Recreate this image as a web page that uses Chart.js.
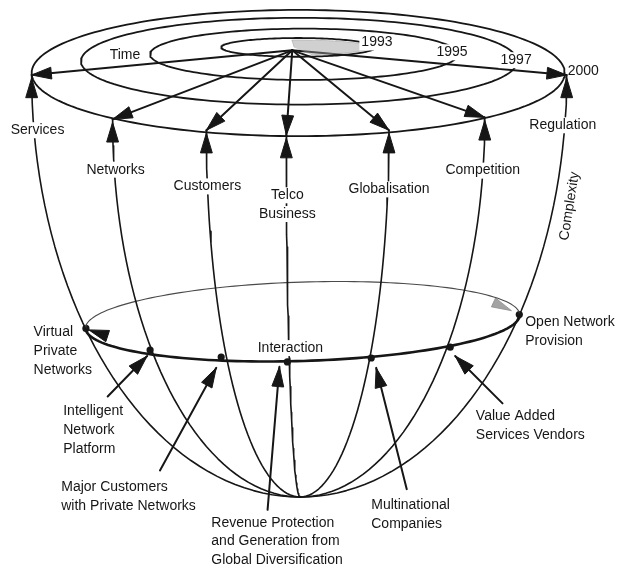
<!DOCTYPE html>
<html>
<head>
<meta charset="utf-8">
<script src="https://cdn.jsdelivr.net/npm/chart.js@4"></script>
<style>
  html, body { margin: 0; padding: 0; background: #fff; }
  #wrap { width: 624px; height: 573px; position: relative; }
</style>
</head>
<body>
<div id="wrap"><canvas id="bowl"></canvas></div>
<script>
// time rings on the rim of the bowl (1993 innermost, 2000 = the rim itself)
const ringYears = ['1993', '1995', '1997', '2000'];
const ringCx = [298, 304, 299, 298];
const ringCy = [44, 51, 58, 70];
const ringRx = [78, 156, 221, 270];
const ringRy = [9.5, 26, 44, 64];

// drivers: spoke from the hub to the rim, then a meridian down to the bottom
const drivers = ['Services', 'Networks', 'Customers', 'Telco Business', 'Globalisation', 'Competition', 'Regulation'];
const rimX = [28, 110, 205, 286, 390, 487, 570];
const rimY = [72, 117, 128, 133, 128, 115, 72];
const hubPoint = [292, 47];
const bottomPoint = [300, 500];

// interaction ring and the points where meridians cross it
const interCentre = [302.5, 322];
const interRadius = [220, 40];
const interTilt = -1.8;
const nodeNames = ['Virtual Private Networks', 'Intelligent Network Platform', 'Major Customers', 'Interaction', 'Multinational Companies', 'Value Added Services Vendors', 'Open Network Provision'];
const nodeX = [83, 148, 220, 287, 372, 452, 522];
const nodeY = [329, 351, 358, 363, 359, 348, 315];

// arrows from the outside players towards the ring
const playerFromX = [105, 158, 267, 408, 505];
const playerFromY = [398, 473, 513, 492, 405];
const playerToX = [145, 215, 279, 377, 457];
const playerToY = [357, 369, 368, 369, 357];

const INK = '#161616';
const FONT = '14px "Liberation Sans", Arial, sans-serif';

function arc(cx, cy, rx, ry, a0, a1, tilt) {
  const t = (tilt || 0) * Math.PI / 180, c = Math.cos(t), s = Math.sin(t);
  const pts = [];
  for (let a = a0; ; a += 2) {
    if (a > a1) a = a1;
    const r = a * Math.PI / 180;
    const X = rx * Math.cos(r), Y = -ry * Math.sin(r);
    pts.push({ x: cx + X * c - Y * s, y: cy + X * s + Y * c });
    if (a === a1) break;
  }
  return pts;
}

function meridian(x0, y0) {
  const pts = [];
  for (let a = 0; a <= 90; a += 2) {
    const r = a * Math.PI / 180;
    pts.push({ x: bottomPoint[0] + (x0 - bottomPoint[0]) * Math.cos(r), y: y0 + (bottomPoint[1] - y0) * Math.sin(r) });
  }
  return pts;
}

function head(fx, fy, tx, ty, len, half) {
  const dx = tx - fx, dy = ty - fy, d = Math.hypot(dx, dy);
  const ux = dx / d, uy = dy / d;
  const bx = tx - ux * len, by = ty - uy * len;
  return [
    { x: tx, y: ty },
    { x: bx - uy * half, y: by + ux * half },
    { x: bx + uy * half, y: by - ux * half },
    { x: tx, y: ty }
  ];
}

const datasets = [];
function line(pts, width, color) {
  datasets.push({ data: pts, showLine: true, borderColor: color || INK, borderWidth: width,
    pointRadius: 0, fill: false, tension: 0, borderCapStyle: 'round', borderJoinStyle: 'round' });
}
function solid(pts, color) {
  datasets.push({ data: pts, showLine: true, borderColor: color || INK, backgroundColor: color || INK,
    borderWidth: 1, pointRadius: 0, fill: 'shape', tension: 0 });
}

// grey shading in the centre of the first ring
solid(arc(ringCx[0], ringCy[0], ringRx[0] - 4, ringRy[0] - 2, -80, 95).concat([{ x: ringCx[0] - 4, y: ringCy[0] }]), 'rgba(150,150,150,0.45)');

// time rings
ringYears.forEach((y, i) => {
  line(arc(ringCx[i], ringCy[i], ringRx[i], ringRy[i], 0, 360), 1.8);
});

// meridians down the bowl
drivers.forEach((d, i) => line(meridian(rimX[i], rimY[i]), 1.6));

// spokes from the hub with arrowheads on the rim
drivers.forEach((d, i) => {
  line([{ x: hubPoint[0], y: hubPoint[1] }, { x: rimX[i], y: rimY[i] }], 2);
  solid(head(hubPoint[0], hubPoint[1], rimX[i], rimY[i], 20, 6));
  // arrow coming up from the label
  solid(head(rimX[i], rimY[i] + 26, rimX[i], rimY[i] + 3, 20, 6));
});

// interaction ring: back half thin, front half heavy
line(arc(interCentre[0], interCentre[1], interRadius[0], interRadius[1], 0, 180, interTilt), 1.1, '#4a4a4a');
line(arc(interCentre[0], interCentre[1], interRadius[0], interRadius[1], 180, 360, interTilt), 2.6);
solid(head(nodeX[1], nodeY[1], nodeX[0] + 3, nodeY[0] + 1.5, 20, 6));
solid(head(nodeX[6] - 34, nodeY[6] - 16, nodeX[6] - 8, nodeY[6] - 4, 20, 5), 'rgba(140,140,140,0.8)');

// players' arrows
playerFromX.forEach((x, i) => {
  line([{ x: x, y: playerFromY[i] }, { x: playerToX[i], y: playerToY[i] }], 2);
  solid(head(x, playerFromY[i], playerToX[i], playerToY[i], 20, 6));
});

// nodes on the interaction ring
datasets.push({ data: nodeX.map((x, i) => ({ x: x, y: nodeY[i] })), showLine: false,
  pointRadius: 3.6, pointBackgroundColor: INK, pointBorderColor: INK, pointBorderWidth: 0 });

// text, in data units: [lines, x, y, align, boxed, rotation]
const texts = [
  [['Time'], 107, 52, 'left', false],
  [[ringYears[0]], 362, 39, 'left', true],
  [[ringYears[1]], 438, 49, 'left', true],
  [[ringYears[2]], 503, 57, 'left', true],
  [[ringYears[3]], 571, 68, 'left', false],
  [[drivers[0]], 34, 128, 'center', true],
  [[drivers[1]], 113, 168, 'center', true],
  [[drivers[2]], 206, 185, 'center', true],
  [['Telco', 'Business'], 287, 194, 'center', true],
  [[drivers[4]], 390, 188, 'center', true],
  [[drivers[5]], 485, 169, 'center', true],
  [[drivers[6]], 566, 123, 'center', true],
  [['Complexity'], 573, 205, 'center', false, -81],
  [['Interaction'], 257, 349, 'left', true],
  [['Virtual', 'Private', 'Networks'], 30, 333, 'left', false],
  [['Intelligent', 'Network', 'Platform'], 60, 413, 'left', false],
  [['Major Customers', 'with Private Networks'], 58, 490, 'left', false],
  [['Revenue Protection', 'and Generation from', 'Global Diversification'], 210, 526, 'left', false],
  [['Multinational', 'Companies'], 372, 508, 'left', false],
  [['Value Added', 'Services Vendors'], 478, 418, 'left', false],
  [['Open Network', 'Provision'], 528, 323, 'left', false]
];

const textPlugin = {
  id: 'bowlText',
  afterDatasetsDraw(chart) {
    const ctx = chart.ctx, sx = chart.scales.x, sy = chart.scales.y;
    ctx.save();
    ctx.font = FONT;
    ctx.textBaseline = 'middle';
    texts.forEach(([lines, x, y, align, boxed, rot]) => {
      lines.forEach((t, k) => {
        const px = sx.getPixelForValue(x), py = sy.getPixelForValue(y + k * 19);
        ctx.save();
        ctx.translate(px, py);
        if (rot) ctx.rotate(rot * Math.PI / 180);
        ctx.textAlign = align;
        const w = ctx.measureText(t).width;
        if (boxed) {
          const left = align === 'center' ? -w / 2 : 0;
          ctx.fillStyle = '#fff';
          ctx.fillRect(left - 2, -8, w + 4, 16);
        }
        ctx.fillStyle = INK;
        ctx.fillText(t, 0, 0);
        ctx.restore();
      });
    });
    ctx.restore();
  }
};

new Chart(document.getElementById('bowl'), {
  type: 'scatter',
  data: { datasets: datasets },
  options: {
    responsive: true,
    maintainAspectRatio: false,
    animation: false,
    events: [],
    layout: { padding: 0 },
    plugins: { legend: { display: false }, tooltip: { enabled: false } },
    scales: {
      x: { type: 'linear', min: 0, max: 624, display: false },
      y: { type: 'linear', min: 0, max: 573, reverse: true, display: false }
    }
  },
  plugins: [textPlugin]
});
</script>
</body>
</html>
